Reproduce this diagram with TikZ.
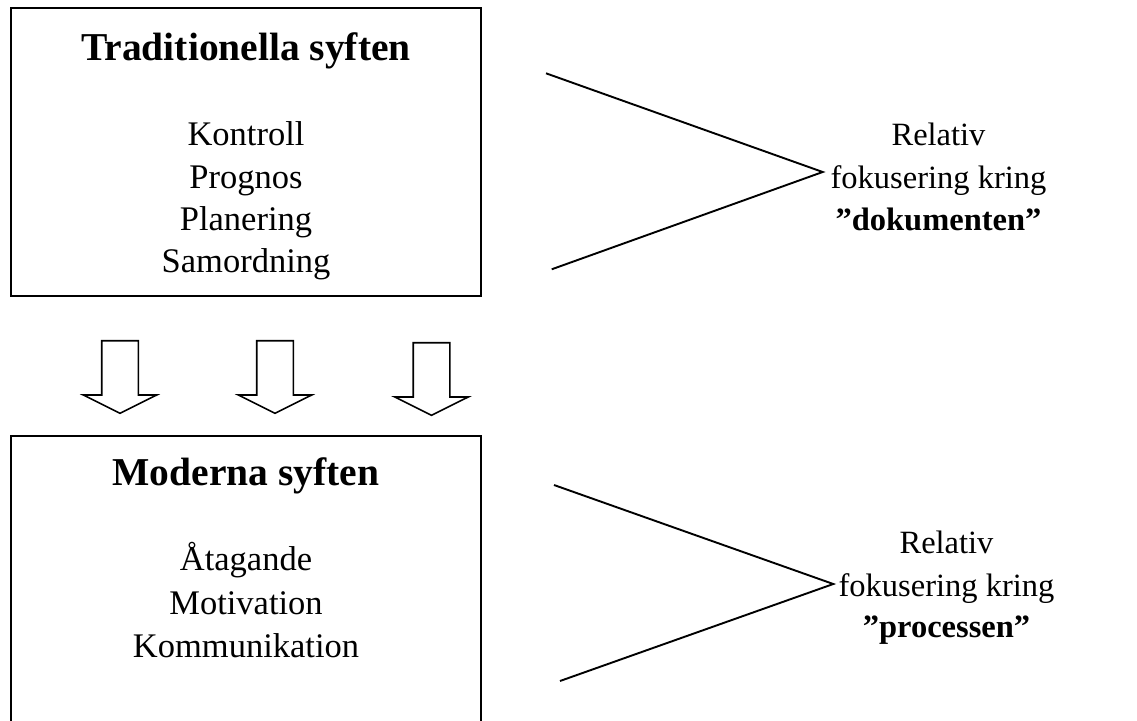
\documentclass[tikz,border=0pt]{standalone}
\usepackage{fontspec}
\setmainfont{Liberation Serif}
\begin{document}
\begin{tikzpicture}[x=1pt,y=-1pt,
  frame/.style={draw, line width=2pt, inner sep=0pt},
  item/.style={anchor=base, inner sep=0pt, font=\fontsize{34.5}{42}\selectfont},
  heading/.style={anchor=base, inner sep=0pt, font=\fontsize{39.5}{46}\selectfont\bfseries},
  focus/.style={anchor=base, inner sep=0pt, font=\fontsize{32.5}{42}\selectfont},
  funnel/.style={line width=1.9pt, line join=miter},
  arrowline/.style={draw, line width=1.6pt, line join=miter},
  downarrow/.pic={\path[arrowline] (-18.3,0) -- (-18.3,54.3) -- (-36.7,54.3)
      -- (0,72.6) -- (36.7,54.3) -- (18.3,54.3) -- (18.3,0) -- cycle;}
]
\path[use as bounding box] (0,0) rectangle (1137,720);
\clip (0,0) rectangle (1137,720);

% upper box: traditional purposes
\node[frame, minimum width=470pt, minimum height=287.7pt] (topbox) at (246,152.15) {};
\node[heading] (toptitle) at (246,60) {Traditionella syften};
\node[item] (t1) at (246,145.7) {Kontroll};
\node[item] (t2) at (246,188.2) {Prognos};
\node[item] (t3) at (246,230.6) {Planering};
\node[item] (t4) at (246,272.8) {Samordning};

% three block arrows between the boxes
\pic at (120,340.7) {downarrow};
\pic at (275,340.7) {downarrow};
\pic at (431.5,342.7) {downarrow};

% lower box: modern purposes (runs past the lower edge)
\node[frame, minimum width=470pt, minimum height=330pt, anchor=north] (botbox) at (246,435) {};
\node[heading] (bottitle) at (246,485) {Moderna syften};
\node[item] (b1) at (246,570.7) {Åtagande};
\node[item] (b2) at (246,614.5) {Motivation};
\node[item] (b3) at (246,657.3) {Kommunikation};

% focus on the documents
\coordinate (fa1) at (546,73.3);
\coordinate (fa2) at (551.7,269.3);
\coordinate (apexA) at (822.7,172);
\node[focus] (fA1) at (938.5,145.3) {Relativ};
\node[focus] (fA2) at (938.5,188.3) {fokusering kring};
\node[focus] (fA3) at (938.5,230.3) {\bfseries ”dokumenten”};
\draw[funnel] (fa1) -- (apexA) -- (fa2);

% focus on the process
\coordinate (fb1) at (554,485);
\coordinate (fb2) at (560,681);
\coordinate (apexB) at (833.3,584);
\node[focus] (fB1) at (946.5,553.5) {Relativ};
\node[focus] (fB2) at (946.5,596.5) {fokusering kring};
\node[focus] (fB3) at (946.5,637.5) {\bfseries ”processen”};
\draw[funnel] (fb1) -- (apexB) -- (fb2);
\end{tikzpicture}
\end{document}
